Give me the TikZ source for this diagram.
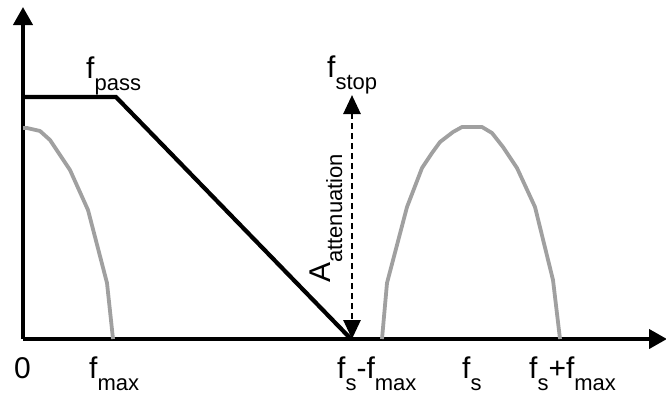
\documentclass[tikz,border=0pt]{standalone}
\usepackage{fontspec}
\setmainfont{Liberation Sans}
\usepackage{xcolor}
\usepackage{tikz}
\usetikzlibrary{arrows.meta,positioning,calc}
\definecolor{specgray}{RGB}{160,160,160}
\newcommand{\lowsub}[1]{\raisebox{-12pt}{\fontsize{22}{22}\selectfont #1}}
\tikzset{
  axisline/.style={line width=4pt, -{Triangle[length=18pt,width=19pt]}},
  filterline/.style={line width=4.2pt, line join=miter},
  specline/.style={specgray, line width=3.8pt, line join=round},
  attarr/.style={line width=2.8pt, dash pattern=on 6pt off 4pt,
    {Triangle[length=19pt,width=17pt]}-{Triangle[length=19pt,width=17pt]}},
  freqlbl/.style={anchor=base west, inner sep=0pt, font=\fontsize{30}{30}\selectfont},
}

\begin{document}
\begin{tikzpicture}[x=1pt, y=-1pt]
  \useasboundingbox (0,0) rectangle (666,394);
  % axes
  \coordinate (o) at (23,339);
  \coordinate (ytip) at (23,7);
  \coordinate (xtip) at (667,339);
  \draw[axisline] (o) -- (ytip);
  \draw[axisline] (o) -- (xtip);
  % filter response
  \coordinate (p0) at (23,97);
  \coordinate (pass) at (116,97);
  \coordinate (stop) at (351,339);
  \draw[filterline] (p0) -- (pass) -- (stop);
  % baseband spectrum
  \draw[specline] (o |- 0,128) -- (27,128) -- (40,131) -- (50,140) -- (70,170)
    -- (88,210) -- (107,283) -- (113,339);
  % image spectrum around fs
  \draw[specline] (382,339) -- (387,283) -- (407,207) -- (422,168) -- (432,153)
    -- (440,142) -- (453,132) -- (462,127) -- (482,127) -- (492,133) -- (503,147)
    -- (517,168) -- (535,207) -- (553,280) -- (560,339);
  % attenuation
  \coordinate (att) at (352,95);
  \draw[attarr] (att) -- (att |- stop);
  \node[freqlbl, rotate=90] (alab) at (330,283) {A\lowsub{attenuation}};
  % labels
  \node[freqlbl] (fpass) at (86,78) {f\lowsub{pass}};
  \node[freqlbl] (fstop) at (327,77) {f\lowsub{stop}};
  \node[freqlbl] (zero) at (14,378) {0};
  \node[freqlbl] (fmax) at (89,378) {f\lowsub{max}};
  \node[freqlbl] (fsm) at (337,378) {f\lowsub{s}-f\lowsub{max}};
  \node[freqlbl] (fs) at (462,378) {f\lowsub{s}};
  \node[freqlbl] (fsp) at (529,378) {f\lowsub{s}+f\lowsub{max}};
\end{tikzpicture}
\end{document}
